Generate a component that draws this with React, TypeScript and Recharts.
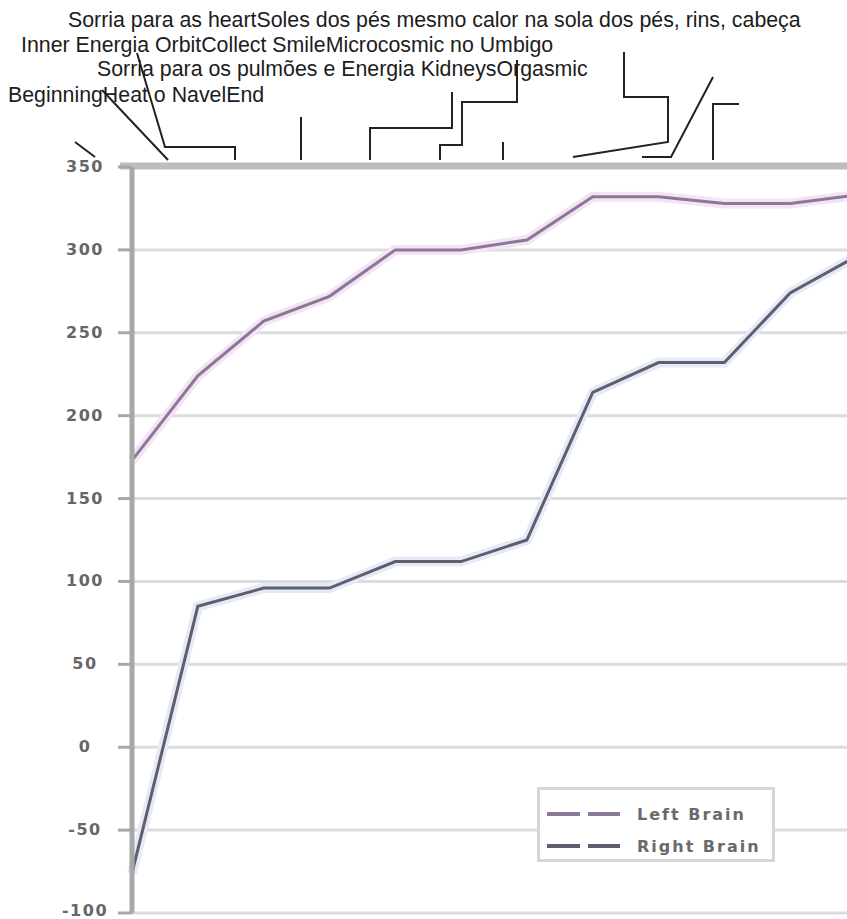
import React from 'react'
import { LineChart, Line, XAxis, YAxis, CartesianGrid, Legend, Customized } from 'recharts'

// steps along the exercise (the original shows no x labels)
const steps = ['1', '2', '3', '4', '5', '6', '7', '8', '9', '10', '11', '12']
const leftBrain = [173, 224, 257, 272, 300, 300, 306, 332, 332, 328, 328, 333]
const rightBrain = [-76, 85, 96, 96, 112, 112, 125, 214, 232, 232, 274, 296]
const yTicks = [-100, -50, 0, 50, 100, 150, 200, 250, 300, 350]

// annotation labels, one list per text row (run together, as in the original)
const labelRows = [
  ['Sorria para as heart', 'Soles dos pés mesmo calor na sola dos pés, rins, cabeça'],
  ['Inner Energia Orbit', 'Collect Smile', 'Microcosmic no Umbigo'],
  ['Sorria para os pulmões e Energia Kidneys', 'Orgasmic'],
  ['Beginning', 'Heat o Navel', 'End'],
]

const data = steps.map((step, i) => ({ step, left: leftBrain[i], right: rightBrain[i] }))

const W = 847
const H = 919
const LEFT_COLOR = '#8a7898'
const RIGHT_COLOR = '#5e5e6e'

// layout of the label block and its leader lines (page pixels)
const ROW_X = [68, 21, 97, 8]
const ROW_Y = [27, 52, 76, 102]
const LEADERS = [
  '75,142 95,157',
  '102,90 168,160',
  '137,53 165,147 235,147 235,160',
  '301,117 301,160',
  '452,92 452,128 370,128 370,160',
  '517,60 517,102 462,102 462,145 440,145 440,160',
  '503,142 503,160',
  '624,52 624,97 668,97 668,142 573,157',
  '713,77 671,157 642,157',
  '739,104 713,104 713,160',
]

function YTick({ y, payload }: any) {
  // keep the bottom label inside the page
  const baseline = Math.min(y + 5, H - 3)
  return (
    <text
      x={85}
      y={baseline}
      textAnchor="middle"
      fill="#666"
      fontFamily="DejaVu Sans"
      fontWeight="bold"
      fontSize={16}
      letterSpacing={1.5}
    >
      {payload.value}
    </text>
  )
}

function Overlay() {
  return (
    <g>
      <line x1={120} x2={870} y1={166} y2={166} stroke="#bdbdbd" strokeWidth={7} />
      {LEADERS.map((pts, i) => (
        <polyline key={i} points={pts} fill="none" stroke="#222" strokeWidth={2} />
      ))}
      {labelRows.map((row, i) => (
        <text
          key={i}
          x={ROW_X[i]}
          y={ROW_Y[i]}
          fill="#1c1c1c"
          fontFamily="'Liberation Sans', Arial, sans-serif"
          fontSize={21.33}
        >
          {row.join('')}
        </text>
      ))}
    </g>
  )
}

function LegendBox({ payload }: any) {
  const items = (payload ?? []).filter((p: any) => p.type !== 'none')
  return (
    <div
      style={{
        width: 238,
        height: 75,
        boxSizing: 'border-box',
        border: '3px solid #d6d6d6',
        background: '#fff',
        paddingTop: 8,
      }}
    >
      {items.map((p: any) => (
        <div key={p.value} style={{ display: 'flex', alignItems: 'center', height: 32 }}>
          <svg width={90} height={10} style={{ marginLeft: 7 }}>
            <line x1={0} x2={73} y1={5} y2={5} stroke={p.color} strokeWidth={4} strokeDasharray="33 8" />
          </svg>
          <span
            style={{
              fontFamily: 'DejaVu Sans',
              fontWeight: 'bold',
              fontSize: 16,
              letterSpacing: 2,
              color: '#6a6a6a',
            }}
          >
            {p.value}
          </span>
        </div>
      ))}
    </div>
  )
}

export default function App() {
  return (
    <div style={{ position: 'fixed', left: 0, top: 0, width: W, height: H, overflow: 'hidden', background: '#fff' }}>
      <LineChart width={860} height={H} data={data} margin={{ top: 167, right: 4, bottom: 6, left: 0 }}>
        <CartesianGrid stroke="#dcdcdc" strokeWidth={3} />
        <XAxis
          dataKey="step"
          height={0}
          tick={false}
          tickLine={false}
          axisLine={{ stroke: '#9c9c9c', strokeWidth: 5 }}
        />
        <YAxis
          type="number"
          domain={[-100, 350]}
          ticks={yTicks}
          interval={0}
          width={132}
          tickSize={14}
          tick={<YTick />}
          tickLine={{ stroke: '#a8a8a8', strokeWidth: 3 }}
          axisLine={{ stroke: '#a8a8a8', strokeWidth: 5 }}
        />
        <Line dataKey="left" stroke="#f3e3f3" strokeWidth={10} dot={false} legendType="none" isAnimationActive={false} />
        <Line dataKey="right" stroke="#e4ebf6" strokeWidth={10} dot={false} legendType="none" isAnimationActive={false} />
        <Line name="Left Brain" dataKey="left" stroke={LEFT_COLOR} strokeWidth={3} dot={false} isAnimationActive={false} />
        <Line name="Right Brain" dataKey="right" stroke={RIGHT_COLOR} strokeWidth={3} dot={false} isAnimationActive={false} />
        <Legend
          layout="horizontal"
          verticalAlign="middle"
          align="center"
          content={<LegendBox />}
          wrapperStyle={{ left: 537, top: 787, width: 238, height: 75 }}
        />
        <Customized component={Overlay} />
      </LineChart>
    </div>
  )
}
